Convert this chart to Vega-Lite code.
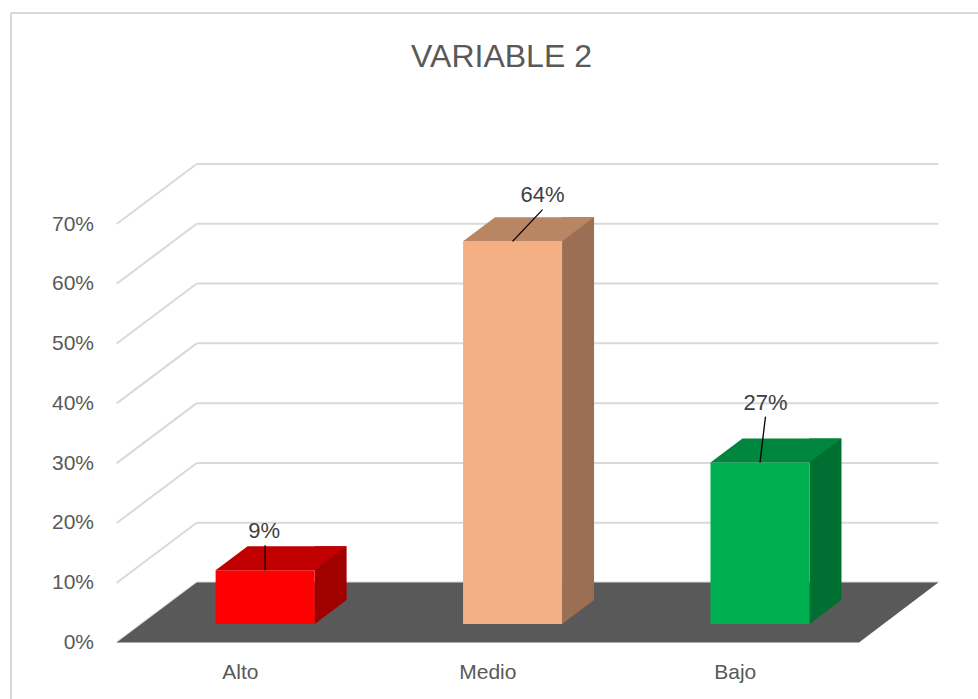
{
  "$schema": "https://vega.github.io/schema/vega-lite/v6.json",
  "width": 967,
  "height": 686,
  "autosize": "none",
  "padding": {"left": 11, "top": 13, "right": 0, "bottom": 0},
  "background": "white",
  "title": {
    "text": "VARIABLE 2",
    "frame": "group",
    "anchor": "middle",
    "offset": -86,
    "baseline": "alphabetic",
    "dx": 7,
    "font": "Liberation Sans",
    "fontSize": 32,
    "fontWeight": "normal",
    "color": "#595959"
  },
  "config": {
    "view": {"stroke": "#D9D9D9", "strokeWidth": 2, "strokeDash": [967, 1653, 686, 0]},
    "axis": {
      "domain": false,
      "ticks": false,
      "tickSize": 0,
      "grid": false,
      "title": null,
      "labelPadding": 0,
      "labelAngle": 0,
      "labelFont": "Liberation Sans",
      "labelFontSize": 21,
      "labelColor": "#595959"
    },
    "axisLeft": {"offset": -82.5},
    "axisBottom": {"offset": -27, "labelBaseline": "middle", "labelAlign": "center"}
  },
  "datasets": {
    "bars": [
      {"cat": "Alto", "v": 0.09},
      {"cat": "Medio", "v": 0.64},
      {"cat": "Bajo", "v": 0.27}
    ],
    "grid": [
      {"v": 0}, {"v": 0.1}, {"v": 0.2}, {"v": 0.3}, {"v": 0.4}, {"v": 0.5}, {"v": 0.6}, {"v": 0.7}
    ]
  },
  "resolve": {"scale": {"color": "independent"}},
  "layer": [
    {
      "data": {"name": "grid"},
      "mark": {"type": "rule", "color": "#D9D9D9", "strokeWidth": 2, "xOffset": 185.7, "x2Offset": 927.3, "yOffset": -60, "y2Offset": -60},
      "encoding": {
        "x": {"value": 0},
        "x2": {"value": 0},
        "y": {
          "field": "v",
          "type": "quantitative",
          "scale": {"domain": [0, 0.7], "range": [629.5, 211], "nice": false, "zero": true},
          "axis": {"values": [0, 0.1, 0.2, 0.3, 0.4, 0.5, 0.6, 0.7], "format": ".0%"}
        },
        "y2": {"field": "v"}
      }
    },
    {
      "data": {"name": "grid"},
      "mark": {"type": "rule", "color": "#D9D9D9", "strokeWidth": 2, "xOffset": 105.7, "x2Offset": 185.7, "y2Offset": -60},
      "encoding": {
        "x": {"value": 0},
        "x2": {"value": 0},
        "y": {"field": "v", "type": "quantitative"},
        "y2": {"field": "v"}
      }
    },
    {
      "data": {"name": "grid"},
      "transform": [{"filter": "datum.v == 0"}],
      "mark": {"type": "point", "shape": "M105.7,0L848,0L927.3,-60L185.7,-60Z", "size": 4, "filled": true, "opacity": 1, "color": "#595959", "strokeWidth": 0},
      "encoding": {
        "x": {"value": 0},
        "y": {"field": "v", "type": "quantitative"}
      }
    },
    {
      "data": {"name": "bars"},
      "mark": {"type": "bar", "width": 32, "xOffset": 90.2, "yOffset": -42.5, "y2Offset": -18.5},
      "encoding": {
        "x": {
          "field": "cat",
          "type": "nominal",
          "scale": {"domain": ["Alto", "Medio", "Bajo"], "range": [105.7, 848], "paddingInner": 0, "paddingOuter": 0}
        },
        "y": {"field": "v", "type": "quantitative"},
        "y2": {"datum": 0},
        "color": {
          "field": "cat",
          "type": "nominal",
          "scale": {"domain": ["Alto", "Medio", "Bajo"], "range": ["#A10000", "#9A6F53", "#006F32"]},
          "legend": null
        }
      }
    },
    {
      "data": {"name": "bars"},
      "mark": {"type": "point", "shape": "M-2,1.5L34,1.5L34,-25.5Z", "size": 4, "filled": true, "opacity": 1, "color": "#595959", "strokeWidth": 0, "xOffset": 74.2, "yOffset": -18.5},
      "encoding": {
        "x": {"field": "cat", "type": "nominal"},
        "y": {"datum": 0, "type": "quantitative"}
      }
    },
    {
      "data": {"name": "bars"},
      "mark": {"type": "bar", "width": 99, "xOffset": 24.7, "yOffset": -18.5, "y2Offset": -18.5},
      "encoding": {
        "x": {"field": "cat", "type": "nominal"},
        "y": {"field": "v", "type": "quantitative"},
        "y2": {"datum": 0},
        "color": {
          "field": "cat",
          "type": "nominal",
          "scale": {"domain": ["Alto", "Medio", "Bajo"], "range": ["#FF0000", "#F4B084", "#00B050"]},
          "legend": null
        }
      }
    },
    {
      "data": {"name": "bars"},
      "mark": {"type": "point", "shape": "M-49.5,0L49.5,0L81.5,-24L-17.5,-24Z", "size": 4, "filled": true, "opacity": 1, "strokeWidth": 0, "xOffset": 24.7, "yOffset": -18.5},
      "encoding": {
        "x": {"field": "cat", "type": "nominal"},
        "y": {"field": "v", "type": "quantitative"},
        "color": {
          "field": "cat",
          "type": "nominal",
          "scale": {"domain": ["Alto", "Medio", "Bajo"], "range": ["#C00000", "#B98664", "#00863D"]},
          "legend": null
        }
      }
    },
    {
      "data": {"name": "bars"},
      "transform": [{"filter": "datum.cat == 'Alto'"}],
      "mark": {"type": "text", "dx": 23.7, "dy": -58, "baseline": "middle", "align": "center", "font": "Liberation Sans", "fontSize": 22, "color": "#404040"},
      "encoding": {
        "x": {"field": "cat", "type": "nominal"},
        "y": {"field": "v", "type": "quantitative"},
        "text": {"field": "v", "type": "quantitative", "format": ".0%"}
      }
    },
    {
      "data": {"name": "bars"},
      "transform": [{"filter": "datum.cat == 'Medio'"}],
      "mark": {"type": "text", "dx": 54.7, "dy": -65, "baseline": "middle", "align": "center", "font": "Liberation Sans", "fontSize": 22, "color": "#404040"},
      "encoding": {
        "x": {"field": "cat", "type": "nominal"},
        "y": {"field": "v", "type": "quantitative"},
        "text": {"field": "v", "type": "quantitative", "format": ".0%"}
      }
    },
    {
      "data": {"name": "bars"},
      "transform": [{"filter": "datum.cat == 'Bajo'"}],
      "mark": {"type": "text", "dx": 30.2, "dy": -78.5, "baseline": "middle", "align": "center", "font": "Liberation Sans", "fontSize": 22, "color": "#404040"},
      "encoding": {
        "x": {"field": "cat", "type": "nominal"},
        "y": {"field": "v", "type": "quantitative"},
        "text": {"field": "v", "type": "quantitative", "format": ".0%"}
      }
    },
    {
      "data": {"name": "bars"},
      "transform": [{"filter": "datum.cat == 'Alto'"}],
      "mark": {"type": "point", "shape": "M0,0L0,-25", "size": 4, "filled": false, "opacity": 1, "color": "#000000", "strokeWidth": 1.3, "xOffset": 24.7, "yOffset": -18.5},
      "encoding": {
        "x": {"field": "cat", "type": "nominal"},
        "y": {"field": "v", "type": "quantitative"}
      }
    },
    {
      "data": {"name": "bars"},
      "transform": [{"filter": "datum.cat == 'Medio'"}],
      "mark": {"type": "point", "shape": "M0,0L30,-31.7", "size": 4, "filled": false, "opacity": 1, "color": "#000000", "strokeWidth": 1.3, "xOffset": 24.7, "yOffset": -18.5},
      "encoding": {
        "x": {"field": "cat", "type": "nominal"},
        "y": {"field": "v", "type": "quantitative"}
      }
    },
    {
      "data": {"name": "bars"},
      "transform": [{"filter": "datum.cat == 'Bajo'"}],
      "mark": {"type": "point", "shape": "M0,0L5.5,-46", "size": 4, "filled": false, "opacity": 1, "color": "#000000", "strokeWidth": 1.3, "xOffset": 24.7, "yOffset": -18.5},
      "encoding": {
        "x": {"field": "cat", "type": "nominal"},
        "y": {"field": "v", "type": "quantitative"}
      }
    }
  ]
}
